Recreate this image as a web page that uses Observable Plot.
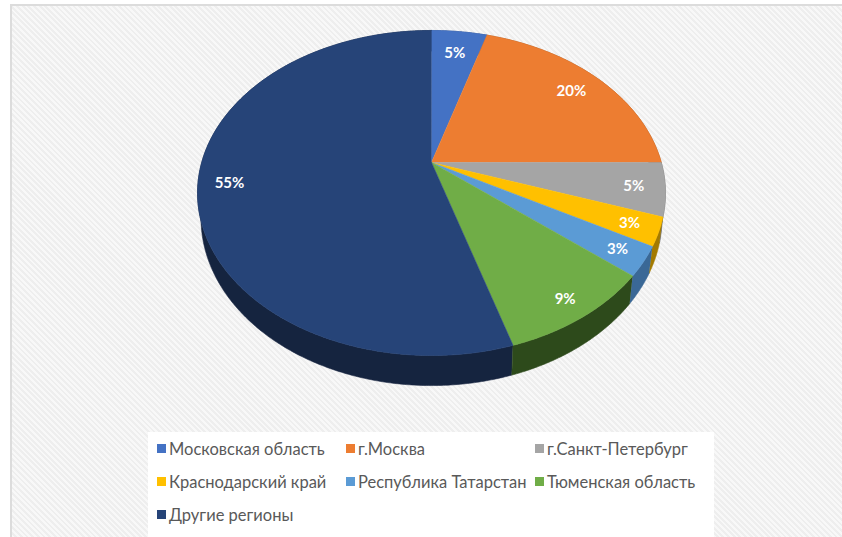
<!DOCTYPE html>
<html>
<head>
<meta charset="utf-8">
<script src="https://cdn.jsdelivr.net/npm/d3@7"></script>
<script src="https://cdn.jsdelivr.net/npm/@observablehq/plot@0.6"></script>
<style>
  html, body { margin: 0; padding: 0; background: #ffffff; }
  #page { position: relative; width: 842px; height: 537px; overflow: hidden; background: #ffffff; }
  #frame { position: absolute; left: 10px; top: 4px; width: 832px; height: 533px;
    border-top: 2px solid #dcdcdc; border-left: 2px solid #dcdcdc; box-sizing: border-box;
    background: repeating-linear-gradient(45deg, #f8f8f8 0px, #f8f8f8 2px, #eeeeee 2px, #eeeeee 4px); }
  #chart { position: absolute; left: 0; top: 0; }
  #legend { position: absolute; left: 148px; top: 432px; width: 566px; height: 105px; background: #ffffff; }
  #legend div.lg-swatches.lg-swatches-wrap { display: grid !important; grid-template-columns: repeat(3, 189px);
    grid-auto-rows: 33px; align-items: center; padding-left: 9px; margin: 0 !important; min-height: 0 !important;
    font-family: Lato, sans-serif !important; font-size: 16.5px !important; color: #595959 !important; }
  #legend .lg-swatch { margin: 0 !important; display: inline-flex !important; align-items: center; white-space: nowrap; }
  #legend .lg-swatch > svg { margin-right: 3px !important; }
</style>
</head>
<body>
<div id="page">
  <div id="frame"></div>
  <div id="chart"></div>
  <div id="legend"></div>
</div>
<script>
const categories = ["Московская область", "г.Москва", "г.Санкт-Петербург", "Краснодарский край", "Республика Татарстан", "Тюменская область", "Другие регионы"];
const values = [4.6, 20.4, 5.3, 2.8, 2.9, 9.3, 54.7];
const colors = ["#4472C4", "#ED7D31", "#A5A5A5", "#FFC000", "#5B9BD5", "#70AD47", "#264478"];
const sideColors = ["#2b4c86", "#9c4f1b", "#6a6a6a", "#a37a00", "#3a6896", "#2d4a1b", "#15243f"];

// perspective of the tilted disk
const S = 0.1877;   // depth factor
const H = 0.1556;   // thickness (y units)
const SHRINK = 0.985; // lower rim slightly farther from the eye
function proj(u, v, drop = 0) {
  const d = 1 + S * v;
  const f = drop > 0 ? SHRINK : 1;
  return {X: f * u / d, Y: (v - drop) / d};
}

const total = d3.sum(values);
let cum = 0;
const slices = values.map((val, i) => {
  const a0 = 2 * Math.PI * cum / total;
  cum += val;
  const a1 = 2 * Math.PI * cum / total;
  return {i, a0, a1, mid: (a0 + a1) / 2};
});

function arcPts(a0, a1, drop) {
  const n = Math.max(2, Math.ceil((a1 - a0) / (Math.PI / 360)) + 1);
  const pts = [];
  for (let k = 0; k < n; k++) {
    const a = a0 + (a1 - a0) * k / (n - 1);
    pts.push(proj(Math.sin(a), Math.cos(a), drop));
  }
  return pts;
}

// shadow under the pie
const shadowRows = arcPts(0, 2 * Math.PI, H + 0.05).map(p => ({X: p.X + 0.015, Y: p.Y}));

// side walls, back first
const sideRows = [];
slices.slice().sort((a, b) => Math.cos(b.mid) - Math.cos(a.mid)).forEach(s => {
  const top = arcPts(s.a0, s.a1, 0);
  const bot = arcPts(s.a0, s.a1, H).reverse();
  top.concat(bot).forEach(p => sideRows.push({slice: s.i, X: p.X, Y: p.Y, fill: sideColors[s.i]}));
});

// top faces
const topRows = [];
slices.forEach(s => {
  [{X: 0, Y: 0}].concat(arcPts(s.a0, s.a1, 0)).forEach(p => topRows.push({slice: s.i, X: p.X, Y: p.Y, fill: colors[s.i]}));
});

// labels
const labelRows = slices.map(s => {
  const r = 0.86 - 0.05 * Math.cos(s.mid);
  const p = proj(r * Math.sin(s.mid), r * Math.cos(s.mid), 0);
  return {X: p.X, Y: p.Y, text: Math.round(values[s.i] / total * 100) + "%"};
});

const chart = Plot.plot({
  width: 842,
  height: 432,
  margin: 0,
  x: {domain: [-1, 1], range: [431 - 229.8, 431 + 229.8], axis: null},
  y: {domain: [-1, 1], range: [162 + 156.8, 162 - 156.8], axis: null},
  color: {type: "identity"},
  style: {background: "transparent", overflow: "visible"},
  marks: [
    Plot.line(shadowRows, {x: "X", y: "Y", fill: "#000000", fillOpacity: 0.3, stroke: "none", ariaLabel: "shadow"}),
    Plot.line(sideRows, {x: "X", y: "Y", z: "slice", fill: "fill", stroke: "fill", strokeWidth: 0.6}),
    Plot.line(topRows, {x: "X", y: "Y", z: "slice", fill: "fill", stroke: "fill", strokeWidth: 0.6}),
    Plot.text(labelRows, {x: "X", y: "Y", text: "text", fill: "#ffffff", fontSize: 15, fontWeight: "bold", fontFamily: "Lato, sans-serif"})
  ]
});

const svg = d3.select(chart);
svg.insert("defs", ":first-child").append("filter").attr("id", "blurShadow")
  .attr("x", "-20%").attr("y", "-20%").attr("width", "140%").attr("height", "140%")
  .append("feGaussianBlur").attr("stdDeviation", 5);
svg.selectAll('g[aria-label="shadow"]').attr("filter", "url(#blurShadow)");

document.getElementById("chart").appendChild(chart);

const legend = Plot.legend({
  color: {type: "ordinal", domain: categories, range: colors},
  swatchSize: 9,
  className: "lg"
});
document.getElementById("legend").appendChild(legend);
</script>
</body>
</html>
